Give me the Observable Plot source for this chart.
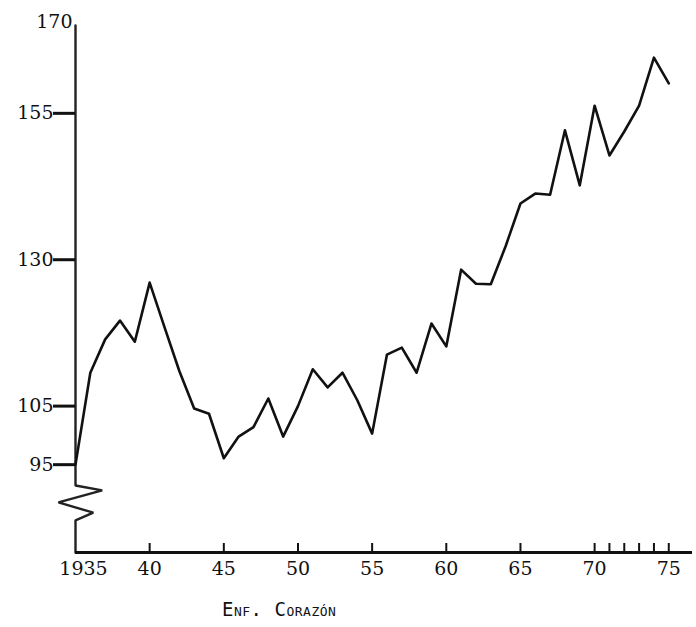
<!DOCTYPE html>
<html><head><meta charset="utf-8">
<script src="https://cdn.jsdelivr.net/npm/d3@7"></script>
<script src="https://cdn.jsdelivr.net/npm/@observablehq/plot@0.6"></script>
<style>
body{margin:0;background:#fff;}
#wrap{position:relative;width:696px;height:627px;overflow:hidden;}
#caption{position:absolute;left:222px;top:598px;font-family:"DejaVu Sans Mono",monospace;font-size:19px;font-variant:small-caps;letter-spacing:0.5px;color:#111;white-space:nowrap;}
</style></head><body>
<div id="wrap"><div id="chart"></div><div id="caption">Enf. Corazón</div></div>
<script>
// Years and values
const years = d3.range(1935, 1976);
const values = [95, 110.7, 116.4, 119.6, 116.0, 126.1, 118.5, 111.0, 104.6, 103.7,
  96.1, 99.8, 101.4, 106.3, 99.8, 105.0, 111.3, 108.2, 110.7, 106.0,
  100.3, 113.8, 115.0, 110.7, 119.1, 115.2, 128.3, 125.9, 125.8, 132.3,
  139.6, 141.3, 141.1, 152.1, 142.7, 156.3, 147.8, 151.9, 156.3, 164.5, 160.1];

// Axis definitions
const yDomain = [80, 170];
const xDomain = [1935, 1976.6];
const yTicks = [95, 105, 130, 155];
const yTopLabel = [170];
const xTickYears = [1940, 1945, 1950, 1955, 1960, 1965, 1970, 1971, 1972, 1973, 1974, 1975];
const xLabelYears = [1940, 1945, 1950, 1955, 1960, 1965, 1970, 1975];
const xFirstLabel = [1935];
// axis-break zigzag (data units): top, vertices, bottom
const breakTop = 91.45, breakBottom = 85.5;
const breakZig = [[1936.8, 90.6], [1933.85, 88.55], [1936.2, 86.8]];

const data = years.map((y, i) => ({year: y, value: values[i]}));
const axisPts = [[xDomain[0], yDomain[1]], [xDomain[0], breakTop], ...breakZig,
  [xDomain[0], breakBottom], [xDomain[0], yDomain[0]]];

const font = "DejaVu Serif";
const chart = Plot.plot({
  width: 696, height: 585,
  marginTop: 25, marginLeft: 75, marginRight: 4, marginBottom: 33,
  x: {domain: xDomain, axis: null},
  y: {domain: yDomain, axis: null},
  style: {fontFamily: font, fontSize: "19px", background: "white", color: "#111"},
  marks: [
    Plot.line(axisPts, {x: d => d[0], y: d => d[1], stroke: "#222", strokeWidth: 2.4, strokeLinejoin: "miter"}),
    Plot.ruleY([yDomain[0]], {x1: xDomain[0], x2: xDomain[1], stroke: "#111", strokeWidth: 3}),
    Plot.ruleY(yTicks, {y: d => d, x1: xDomain[0], x2: xDomain[0], insetRight: 22, stroke: "#111", strokeWidth: 3}),
    Plot.text(yTicks, {x: xDomain[0], y: d => d, text: d => String(d), textAnchor: "end", dx: -22, fontSize: 19, fill: "#111"}),
    Plot.text(yTopLabel, {x: xDomain[0], y: d => d, text: d => String(d), textAnchor: "end", dx: -3, dy: -4, fontSize: 19, fill: "#111"}),
    Plot.ruleX(xTickYears, {x: d => d, y1: yDomain[0], y2: yDomain[0], insetBottom: 9, stroke: "#111", strokeWidth: 2}),
    Plot.text(xLabelYears, {x: d => d, y: yDomain[0], text: d => String(d % 100), dy: 16, lineAnchor: "middle", fontSize: 19, fill: "#111"}),
    Plot.text(xFirstLabel, {x: d => d, y: yDomain[0], text: d => String(d), dy: 16, dx: 8, lineAnchor: "middle", fontSize: 19, fill: "#111"}),
    Plot.line(data, {x: "year", y: "value", stroke: "#111", strokeWidth: 2.6})
  ]
});
document.getElementById("chart").append(chart);
</script>
</body></html>
